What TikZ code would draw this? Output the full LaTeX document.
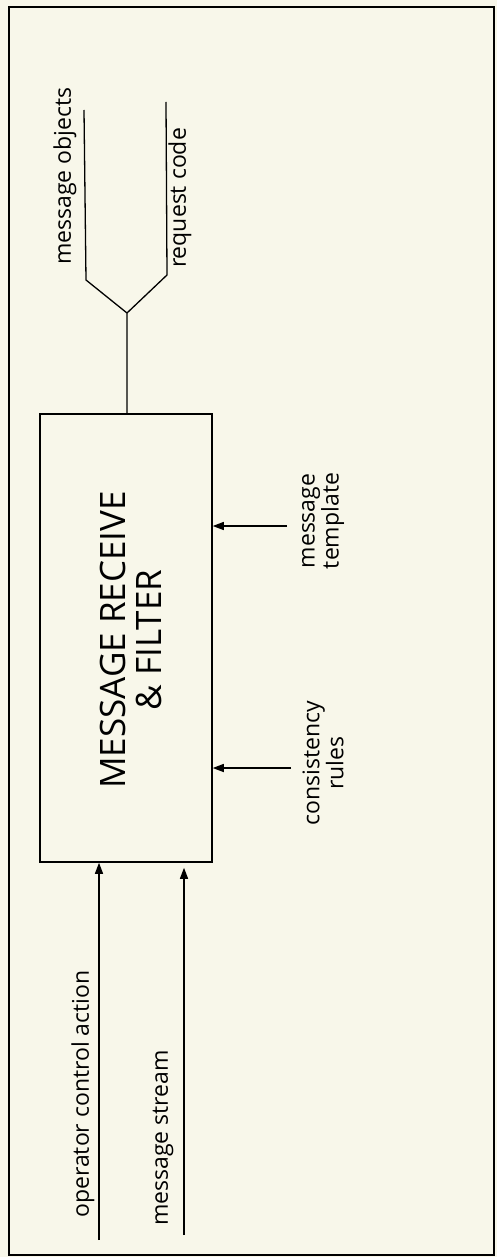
\documentclass[tikz,border=0pt]{standalone}
\usepackage{fontspec}
\setmainfont{Open Sans}
\usetikzlibrary{arrows.meta}
\definecolor{paper}{RGB}{248,247,234}

\begin{document}
\begin{tikzpicture}[x=1pt, y=-1pt]

    \tikzset{
        lbl/.style={rotate=90, inner sep=0pt, align=center, font=\fontsize{23}{24}\selectfont},
        wire/.style={line width=1.3pt},
        flow/.style={wire, -{Triangle[length=11pt, width=8pt]}}
    }

    \fill[paper] (0, 0) rectangle (497, 1257);
    \useasboundingbox (0, 0) rectangle (497, 1257);
    \draw[line width=1.8pt] (9, 7) rectangle (494, 1255);

    \node [draw, line width=1.5pt, minimum width=172pt, minimum height=448pt] (filter) at (126, 638) {};
    \node [rotate=90, align=center, inner sep=0pt, font=\fontsize{35}{36}\selectfont] (title) at (131, 640) {MESSAGE RECEIVE\\\& FILTER};

    \coordinate (fork) at (127, 313);
        \coordinate (objbend) at (86, 280);
        \coordinate (objend) at (84, 110);
        \coordinate (reqbend) at (167, 275);
        \coordinate (reqend) at (166, 102);
    \draw [wire] (filter.north -| fork) -- (fork) -- (objbend) -- (objend);
    \draw [wire] (fork) -- (reqbend) -- (reqend);
    \node [lbl] (objects) at (65, 176) {message objects};
    \node [lbl] (reqcode) at (180, 198) {request code};

    \coordinate (tmplsrc) at (287, 526);
    \draw [flow] (tmplsrc) -- (tmplsrc -| filter.east);
    \node [lbl] (template) at (323, 521) {message\\template};
    \coordinate (rulesrc) at (291, 768);
    \draw [flow] (rulesrc) -- (rulesrc -| filter.east);
    \node [lbl] (rules) at (323, 763) {consistency\\rules};

    \coordinate (opsrc) at (99, 1240);
    \draw [flow] (opsrc) -- (opsrc |- filter.south);
    \node [lbl] (operator) at (83, 1094) {operator control action};
    \coordinate (streamsrc) at (184, 1235);
    \draw [flow, shorten >=5pt] (streamsrc) -- (streamsrc |- filter.south);
    \node [lbl] (stream) at (163, 1138) {message stream};

\end{tikzpicture}
\end{document}
